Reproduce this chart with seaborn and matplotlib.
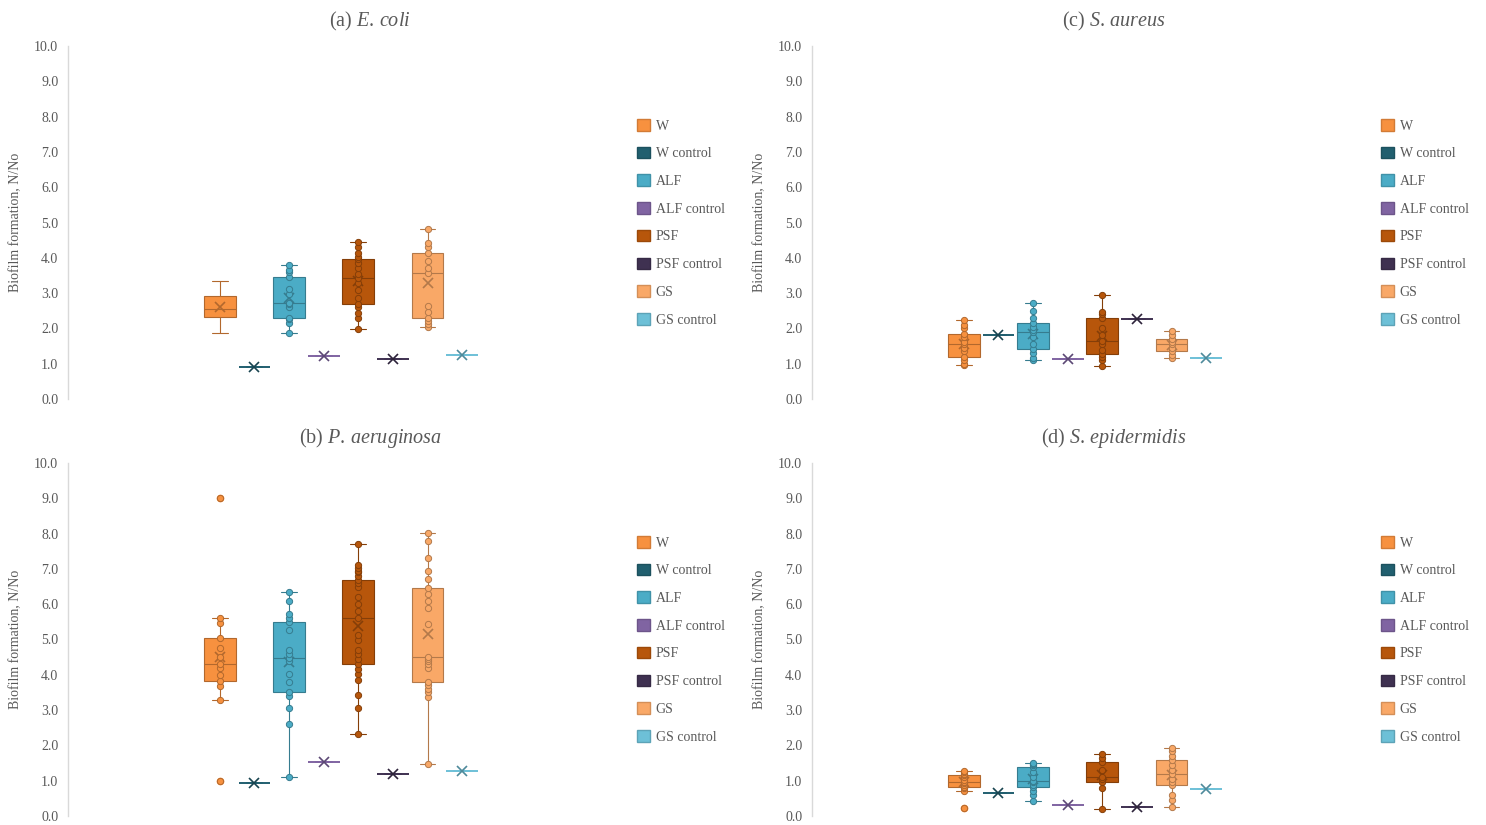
import numpy as np
import pandas as pd
import matplotlib
matplotlib.use("Agg")
import matplotlib.pyplot as plt
import seaborn as sns
from matplotlib.patches import Patch
from matplotlib.colors import to_rgb

sns.set_theme(style="white")
plt.rcParams.update({
    "font.family": ["Liberation Serif", "DejaVu Serif"],
    "mathtext.fontset": "custom",
    "mathtext.rm": "Liberation Serif",
    "mathtext.it": "Liberation Serif:italic",
    "text.color": "#595959",
    "ytick.color": "#595959",
})

SERIES = ["W", "W control", "ALF", "ALF control", "PSF", "PSF control", "GS", "GS control"]
COLORS = ["#F7913F", "#215F6F", "#4BACC6", "#8064A2", "#B7560B", "#3F3151", "#F9A867", "#6DC0D7"]

# readings per series, in SERIES order
ecoli = [
    [1.88, 2.25, 2.32, 2.45, 2.54, 2.75, 2.93, 3.10, 3.35],
    [0.90],
    [1.88, 2.15, 2.27, 2.29, 2.60, 2.68, 2.71, 2.97, 3.12, 3.45, 3.60, 3.66, 3.79],
    [1.22],
    [1.98, 2.30, 2.45, 2.60, 2.69, 2.85, 3.10, 3.30, 3.42, 3.55, 3.70, 3.85, 3.96, 4.03, 4.15, 4.31, 4.44],
    [1.12],
    [2.05, 2.12, 2.20, 2.29, 2.47, 2.63, 3.56, 3.70, 3.90, 4.13, 4.31, 4.43, 4.81],
    [1.25],
]
paeruginosa = [
    [0.99, 3.28, 3.69, 3.82, 4.00, 4.20, 4.32, 4.50, 4.75, 5.04, 5.46, 5.61, 9.02],
    [0.93],
    [1.10, 2.60, 3.07, 3.40, 3.50, 3.80, 4.03, 4.40, 4.49, 4.60, 4.70, 5.27, 5.50, 5.60, 5.72, 6.09, 6.35],
    [1.52],
    [2.31, 3.07, 3.43, 3.85, 4.01, 4.16, 4.32, 4.45, 4.60, 4.70, 5.00, 5.12, 5.60,
     5.80, 6.00, 6.20, 6.48, 6.60, 6.69, 6.80, 6.90, 6.95, 7.02, 7.10, 7.71],
    [1.19],
    [1.48, 3.36, 3.50, 3.59, 3.70, 3.80, 4.20, 4.30, 4.40, 4.45, 4.51,
     5.44, 5.90, 6.10, 6.30, 6.47, 6.70, 6.94, 7.30, 7.78, 8.01],
    [1.28],
]
saureus = [
    [0.95, 1.00, 1.10, 1.18, 1.35, 1.45, 1.56, 1.62, 1.75, 1.84, 2.00, 2.10, 2.24],
    [1.81],
    [1.10, 1.15, 1.30, 1.42, 1.55, 1.75, 1.89, 1.95, 2.05, 2.14, 2.30, 2.50, 2.71],
    [1.12],
    [0.93, 1.10, 1.20, 1.27, 1.40, 1.55, 1.65, 1.80, 2.00, 2.30, 2.40, 2.47, 2.96],
    [2.27],
    [1.15, 1.25, 1.36, 1.45, 1.56, 1.62, 1.70, 1.82, 1.94],
    [1.15],
]
sepidermidis = [
    [0.24, 0.72, 0.78, 0.81, 0.88, 0.93, 0.97, 1.02, 1.10, 1.16, 1.20, 1.25, 1.28],
    [0.64],
    [0.43, 0.60, 0.72, 0.81, 0.88, 0.95, 0.99, 1.10, 1.25, 1.40, 1.45, 1.48, 1.51],
    [0.30],
    [0.20, 0.80, 0.95, 1.05, 1.11, 1.30, 1.52, 1.65, 1.75],
    [0.26],
    [0.26, 0.45, 0.60, 0.88, 0.95, 1.05, 1.18, 1.30, 1.45, 1.59, 1.70, 1.85, 1.92],
    [0.76],
]

W_PX, H_PX = 1486, 825
panels = [
    ("(a) $\\mathit{E.\\,coli}$", ecoli, 68, 46),
    ("(c) $\\mathit{S.\\,aureus}$", saureus, 812, 46),
    ("(b) $\\mathit{P.\\,aeruginosa}$", paeruginosa, 68, 463),
    ("(d) $\\mathit{S.\\,epidermidis}$", sepidermidis, 812, 463),
]


def darker(c, f=0.72):
    r, g, b = to_rgb(c)
    return (r * f, g * f, b * f)


fig = plt.figure(figsize=(W_PX / 100, H_PX / 100), dpi=100)

for idx, (title, values, x0, y0) in enumerate(panels):
    ax = fig.add_axes([x0 / W_PX, 1 - (y0 + 353) / H_PX, 546 / W_PX, 353 / H_PX])
    for i, name in enumerate(SERIES):
        sub = pd.DataFrame({"series": name, "value": values[i]})
        c = COLORS[i]
        dk = darker(c)
        is_ctrl = "control" in name
        sns.boxplot(data=sub, x="series", y="value", order=SERIES, color=c,
                    linecolor=c if is_ctrl else dk, saturation=1, width=0.92,
                    linewidth=1.2 if is_ctrl else 0.8,
                    showmeans=True,
                    meanprops=dict(marker="x", markeredgecolor=dk, markersize=7,
                                   markeredgewidth=1.2),
                    flierprops=dict(marker="o", markerfacecolor=c, markeredgecolor=c,
                                    markersize=4.5),
                    ax=ax)
        # inner points (not shown for controls or E. coli W)
        if is_ctrl or (idx == 0 and name == "W"):
            continue
        sns.stripplot(data=sub, x="series", y="value", order=SERIES, color=c,
                      edgecolor=dk, linewidth=0.7, size=4.5, jitter=False, ax=ax)

    ax.set_xlim(-4.39, 11.39)
    ax.set_ylim(0, 10)
    ax.set_yticks(np.arange(0, 11, 1))
    ax.set_yticklabels([f"{v:.1f}" for v in np.arange(0, 11, 1)], fontsize=10)
    ax.tick_params(axis="y", length=0, pad=7)
    ax.set_xticks([])
    ax.set_xlabel("")
    ax.set_ylabel("")
    for s in ["top", "right", "bottom"]:
        ax.spines[s].set_visible(False)
    ax.spines["left"].set_color("#D9D9D9")
    ax.spines["left"].set_linewidth(1.0)
    ax.patch.set_alpha(0)

    # labels and titles placed in figure pixels
    fig.text((x0 - 52) / W_PX, 1 - (y0 + 176) / H_PX, "Biofilm formation, N/No",
             rotation=90, ha="center", va="center", fontsize=10)
    fig.text((x0 + 302) / W_PX, 1 - (y0 - 25) / H_PX, title,
             ha="center", va="center", fontsize=14.5)

    handles = [Patch(facecolor=COLORS[i], edgecolor=darker(COLORS[i], 0.85), label=SERIES[i])
               for i in range(len(SERIES))]
    fig.legend(handles=handles, loc="upper left",
               bbox_to_anchor=((x0 + 569) / W_PX, 1 - (y0 + 73) / H_PX),
               frameon=False, fontsize=10, handlelength=0.9, handleheight=0.9,
               handletextpad=0.45, labelspacing=1.02, borderaxespad=0, borderpad=0)

fig.savefig("out.png", dpi=100)
